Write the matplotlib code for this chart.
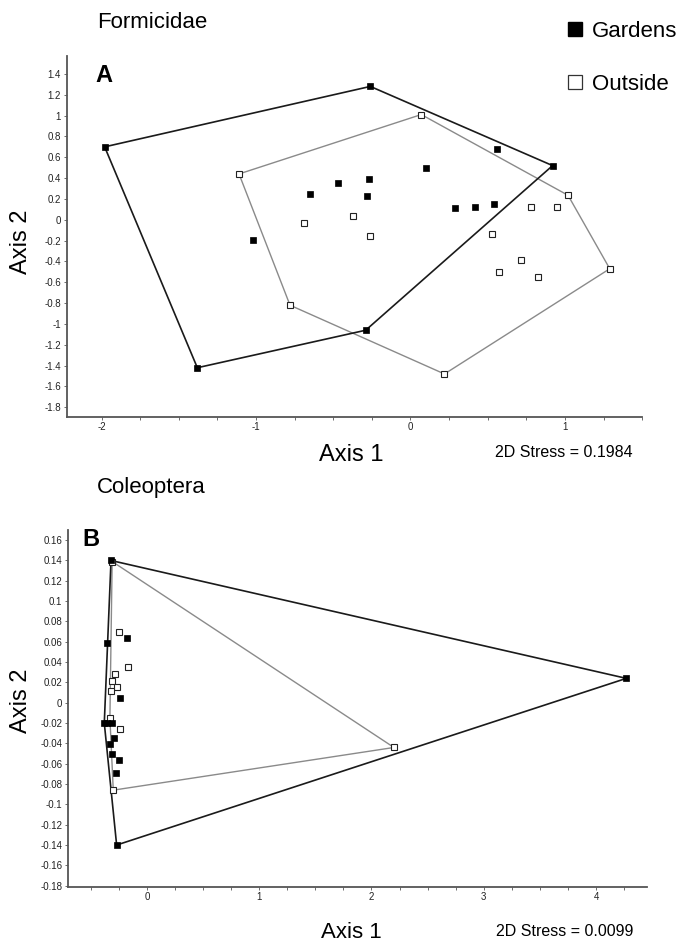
import matplotlib
matplotlib.use('Agg')
import matplotlib.pyplot as plt
from matplotlib.lines import Line2D
from matplotlib.ticker import MultipleLocator, FuncFormatter

plt.rcParams['font.family'] = ['Liberation Sans', 'DejaVu Sans']
plt.rcParams['axes.unicode_minus'] = False

# Formicidae (panel A) NMDS scores
ant_gard_x = [-1.98, -0.26, 0.92, 0.56, -1.38, -0.29, -1.02, -0.65, -0.47, -0.27, -0.28, 0.10, 0.29, 0.42, 0.54]
ant_gard_y = [0.70, 1.28, 0.52, 0.68, -1.42, -1.06, -0.19, 0.25, 0.35, 0.39, 0.23, 0.50, 0.11, 0.12, 0.15]
ant_gard_hull = [0, 1, 2, 5, 4]
ant_out_x = [-1.11, 0.07, 1.02, 1.29, 0.22, -0.78, -0.69, -0.37, -0.26, 0.53, 0.78, 0.95, 0.715, 0.57, 0.825]
ant_out_y = [0.44, 1.01, 0.235, -0.47, -1.48, -0.82, -0.03, 0.035, -0.16, -0.135, 0.125, 0.125, -0.39, -0.505, -0.545]
ant_out_hull = [0, 1, 2, 3, 4, 5]

# Coleoptera (panel B) NMDS scores
col_gard_x = [-0.32, 4.27, -0.27, -0.38, -0.355, -0.18, -0.24, -0.36, -0.31, -0.295, -0.33, -0.31, -0.25, -0.28]
col_gard_y = [0.140, 0.024, -0.140, -0.020, 0.059, 0.064, 0.005, -0.020, -0.020, -0.035, -0.041, -0.050, -0.056, -0.069]
col_gard_hull = [0, 1, 2, 3]
col_out_x = [-0.31, 2.20, -0.30, -0.33, -0.25, -0.17, -0.285, -0.31, -0.27, -0.32, -0.24]
col_out_y = [0.139, -0.044, -0.086, -0.015, 0.070, 0.035, 0.028, 0.021, 0.016, 0.012, -0.026]
col_out_hull = [0, 1, 2, 3]

W, H = 683, 944
fig = plt.figure(figsize=(W / 100, H / 100), dpi=100)

tick_font = ['Liberation Sans Narrow', 'Liberation Sans', 'DejaVu Sans']


def fmt(v, pos):
    s = ('%.2f' % v).rstrip('0').rstrip('.')
    return '0' if s in ('-0', '') else s


def draw_panel(ax, gx, gy, ghull, ox, oy, ohull):
    # hull outlines
    hx = [ox[i] for i in ohull] + [ox[ohull[0]]]
    hy = [oy[i] for i in ohull] + [oy[ohull[0]]]
    ax.plot(hx, hy, color='#8a8a8a', lw=1.0, zorder=2)
    hx = [gx[i] for i in ghull] + [gx[ghull[0]]]
    hy = [gy[i] for i in ghull] + [gy[ghull[0]]]
    ax.plot(hx, hy, color='#1a1a1a', lw=1.2, zorder=3)
    # points
    ax.plot(ox, oy, ls='none', marker='s', ms=5, mfc='white', mec='#222222', mew=0.8, zorder=4)
    ax.plot(gx, gy, ls='none', marker='s', ms=5, mfc='black', mec='black', mew=0.5, zorder=5)

    for side in ['top', 'right']:
        ax.spines[side].set_visible(False)
    for side in ['left', 'bottom']:
        ax.spines[side].set_color('#555555')
        ax.spines[side].set_linewidth(1.3)
    ax.xaxis.set_major_locator(MultipleLocator(1))
    ax.xaxis.set_minor_locator(MultipleLocator(0.25))
    ax.xaxis.set_major_formatter(FuncFormatter(fmt))
    ax.yaxis.set_major_formatter(FuncFormatter(fmt))
    ax.tick_params(axis='both', which='both', direction='out', color='#555555',
                   labelsize=7, width=0.6, length=2.5, pad=1.5, labelcolor='#222222')


# Panel A
ax1 = fig.add_axes([66.5 / W, 1 - 416.7 / H, 576 / W, 360.7 / H])
draw_panel(ax1, ant_gard_x, ant_gard_y, ant_gard_hull, ant_out_x, ant_out_y, ant_out_hull)
ax1.set_xlim(-2.227, 1.502)
ax1.set_ylim(-1.89, 1.572)
ax1.yaxis.set_major_locator(MultipleLocator(0.2))
for lab in ax1.get_xticklabels() + ax1.get_yticklabels():
    lab.set_family(tick_font)

# Panel B
ax2 = fig.add_axes([67.8 / W, 1 - 886.7 / H, 579.2 / W, 356.7 / H])
draw_panel(ax2, col_gard_x, col_gard_y, col_gard_hull, col_out_x, col_out_y, col_out_hull)
ax2.set_xlim(-0.705, 4.454)
ax2.set_ylim(-0.181, 0.170)
ax2.yaxis.set_major_locator(MultipleLocator(0.02))
for lab in ax2.get_xticklabels() + ax2.get_yticklabels():
    lab.set_family(tick_font)

# titles and labels
fig.text(97 / W, 1 - 22 / H, 'Formicidae', fontsize=16, ha='left', va='center')
fig.text(97 / W, 1 - 487 / H, 'Coleoptera', fontsize=16, ha='left', va='center')
fig.text(104 / W, 1 - 75 / H, 'A', fontsize=17, fontweight='bold', ha='center', va='center')
fig.text(91 / W, 1 - 540 / H, 'B', fontsize=17, fontweight='bold', ha='center', va='center')

fig.text(21 / W, 1 - 242 / H, 'Axis 2', fontsize=17, rotation=90, ha='center', va='center')
fig.text(21 / W, 1 - 701 / H, 'Axis 2', fontsize=17, rotation=90, ha='center', va='center')
fig.text(351 / W, 1 - 455 / H, 'Axis 1', fontsize=17, ha='center', va='center')
fig.text(351 / W, 1 - 932 / H, 'Axis 1', fontsize=16, ha='center', va='center')

fig.text(633 / W, 1 - 452 / H, '2D Stress = 0.1984', fontsize=11.5, ha='right', va='center',
         family=['Liberation Sans Narrow', 'Liberation Sans'])
fig.text(633 / W, 1 - 932 / H, '2D Stress = 0.0099', fontsize=11.5, ha='right', va='center',
         family=['Liberation Sans Narrow', 'Liberation Sans'])

# legend
handles = [
    Line2D([0], [0], ls='none', marker='s', ms=10, mfc='black', mec='black', label='Gardens'),
    Line2D([0], [0], ls='none', marker='s', ms=10, mfc='white', mec='#333333', mew=0.9, label='Outside'),
]
fig.legend(handles=handles, loc='upper left', bbox_to_anchor=(566 / W, 1 - 21 / H),
           frameon=False, fontsize=16, handlelength=0.8, handletextpad=0.35,
           labelspacing=1.45, borderpad=0, borderaxespad=0)

fig.savefig('out.png', dpi=100, facecolor='white')
